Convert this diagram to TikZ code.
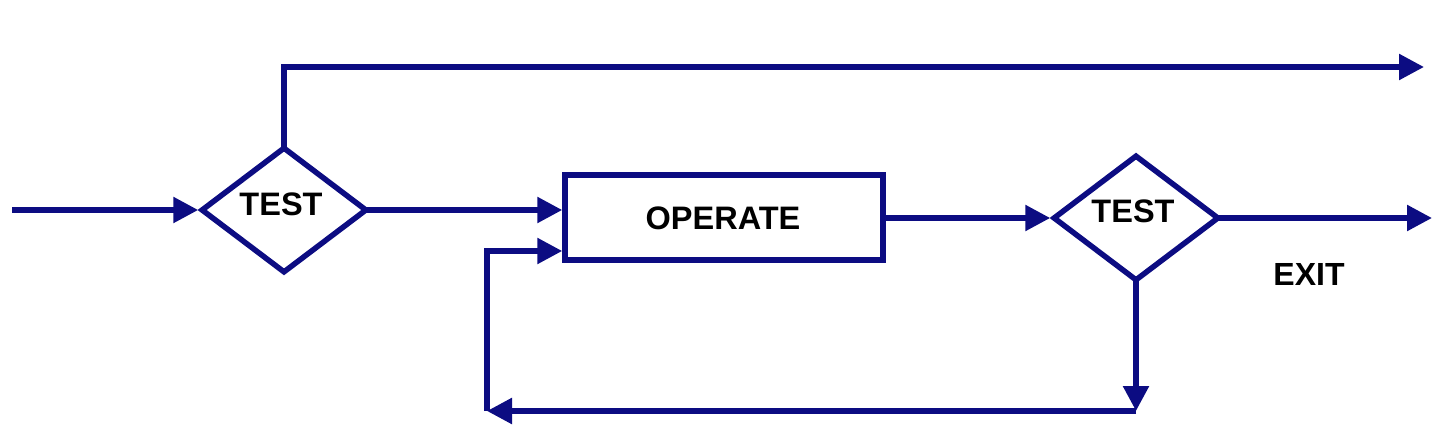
\documentclass[tikz,border=0pt]{standalone}
\usepackage{fontspec}
\setmainfont{Liberation Sans}
\usetikzlibrary{shapes.geometric,arrows.meta}
\definecolor{navy}{RGB}{12,12,130}
\tikzset{
  flow/.style={draw=navy,line width=5.5pt,line join=miter},
  dec/.style={flow,shape=diamond,inner sep=0pt,minimum width=166pt,minimum height=126pt},
  opbox/.style={flow,shape=rectangle,inner sep=0pt,minimum width=318pt,minimum height=85pt},
  lbl/.style={font=\bfseries\fontsize{32.5}{32.5}\selectfont,text=black,inner sep=0pt},
  conn/.style={draw=navy,line width=5.5pt,-{Triangle[length=25pt,width=25pt]}},
  fromvertex/.style={shorten <=-5pt},
  seg/.style={draw=navy,line width=5.5pt,line cap=rect}
}
\begin{document}
\begin{tikzpicture}[x=1pt,y=-1pt]
\useasboundingbox (0,0) rectangle (1440,446);
\node[dec] (t1) at (284,210) {};
\node[lbl] (t1l) at (281,204) {TEST};
\node[opbox] (op) at (724,217.5) {};
\node[lbl,font=\bfseries\fontsize{32.5}{32.5}\selectfont] (opl) at (723,218) {OPERATE};
\node[dec] (t2) at (1136,218) {};
\node[lbl] (t2l) at (1133,211) {TEST};
\node[lbl,font=\bfseries\fontsize{32}{32}\selectfont] (exit) at (1309,274) {EXIT};
\coordinate (in) at (12,210);
\coordinate (top) at (284,67);
\coordinate (out1) at (1424,67);
\coordinate (out2) at (1432,218);
\coordinate (dr) at (1136,411);
\coordinate (dl) at (487,411);
\coordinate (ul) at (487,251);
\draw[conn] (in) -- (t1.west);
\draw[seg,shorten <=-4pt] (t1.north) -- (top);
\draw[conn] (top) -- (out1);
\draw[conn,fromvertex] (t1.east) -- (t1.east -| op.west);
\draw[conn] (t2.west -| op.east) -- (t2.west);
\draw[conn,fromvertex] (t2.east) -- (out2);
\draw[conn,fromvertex] (t2.south) -- (dr);
\draw[conn] (dr) -- (dl);
\draw[conn] (dl) -- (ul) -- (ul -| op.west);
\end{tikzpicture}
\end{document}
